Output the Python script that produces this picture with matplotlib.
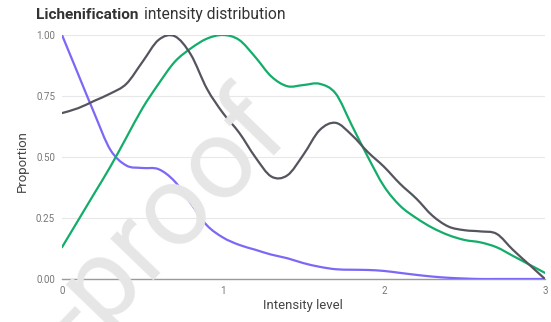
import matplotlib
matplotlib.use("Agg")
import matplotlib.pyplot as plt
import numpy as np
from matplotlib.path import Path
from matplotlib.patches import PathPatch

plt.rcParams['font.family'] = ['Roboto', 'DejaVu Sans']

# intensity levels, read every 0.1
levels = [round(i * 0.1, 1) for i in range(31)]
purple = [1.00, 0.84, 0.68, 0.53, 0.465, 0.455, 0.45, 0.40, 0.31, 0.22,
          0.17, 0.14, 0.12, 0.10, 0.085, 0.065, 0.05, 0.04, 0.038, 0.037,
          0.033, 0.025, 0.017, 0.01, 0.005, 0.002, 0.0, 0.0, 0.0, 0.0, 0.0]
green = [0.13, 0.24, 0.35, 0.46, 0.58, 0.70, 0.80, 0.89, 0.945, 0.985,
         1.00, 0.98, 0.91, 0.83, 0.79, 0.795, 0.80, 0.76, 0.63, 0.50,
         0.38, 0.30, 0.25, 0.21, 0.18, 0.16, 0.15, 0.13, 0.095, 0.06, 0.025]
gray = [0.68, 0.70, 0.73, 0.76, 0.80, 0.89, 0.98, 0.995, 0.92, 0.78,
        0.68, 0.60, 0.50, 0.42, 0.425, 0.51, 0.61, 0.64, 0.59, 0.52,
        0.46, 0.39, 0.33, 0.26, 0.215, 0.20, 0.195, 0.185, 0.12, 0.06, 0.0]

xticks = [0, 1, 2, 3]
yticks = [0, 0.25, 0.5, 0.75, 1.0]


def smooth_line(ax, xs, ys, color):
    # catmull-rom through the points, drawn as bezier segments
    p = np.column_stack([xs, ys])
    ext = np.vstack([p[0], p, p[-1]])
    verts = [p[0]]
    codes = [Path.MOVETO]
    for i in range(len(p) - 1):
        p0, p1, p2, p3 = ext[i], ext[i + 1], ext[i + 2], ext[i + 3]
        verts += [p1 + (p2 - p0) / 6, p2 - (p3 - p1) / 6, p2]
        codes += [Path.CURVE4] * 3
    ax.add_patch(PathPatch(Path(verts, codes), fill=False, edgecolor=color,
                           lw=1.6, zorder=3, capstyle='round'))


def fit_width(t, target, fig):
    fig.canvas.draw()
    w = t.get_window_extent().width
    t.set_fontsize(t.get_fontsize() * target / w)


fig = plt.figure(figsize=(5.51, 3.22), dpi=100)
ax = fig.add_axes([62/551, 1-279/322, 483/551, 244/322])

# watermark
fig.text(82/551, 1-352/322, "-proof", rotation=46, rotation_mode='anchor',
         ha='left', va='baseline', fontsize=82, color='#e6e6e6', zorder=0)
ax.patch.set_alpha(0)

smooth_line(ax, levels, purple, '#7b68f6')
smooth_line(ax, levels, green, '#13ad6a')
smooth_line(ax, levels, gray, '#55555f')

ax.set_xlim(0, 3)
ax.set_ylim(0, 1)
ax.set_xticks(xticks)
ax.set_xticklabels([str(t) for t in xticks])
ax.set_yticks(yticks)
ax.set_yticklabels(['%.2f' % t for t in yticks])
ax.tick_params(length=0, labelsize=7, labelcolor='#777777', pad=5)
ax.grid(axis='y', color='#e8e8e8', lw=0.8)
for s in ['top', 'right', 'left']:
    ax.spines[s].set_visible(False)
ax.spines['bottom'].set_color('#9a9a9a')
ax.spines['bottom'].set_linewidth(1)

xl = fig.text(303/551, 1-305/322, "Intensity level", fontsize=10,
              color='#444444', ha='center', va='center')
yl = fig.text(22/551, 1-161/322, "Proportion", fontsize=10, rotation=90,
              color='#444444', ha='center', va='center')
fit_width(xl, 80, fig)

t1 = fig.text(36/551, 1-19/322, "Lichenification", fontsize=11, fontweight='bold',
              color='#333333', va='baseline')
fit_width(t1, 103, fig)
t2 = fig.text(144/551, 1-19/322, "intensity distribution", fontsize=11,
              color='#333333', va='baseline')
fit_width(t2, 141, fig)
yl.set_fontsize(xl.get_fontsize())

fig.savefig("out.png", dpi=100)
